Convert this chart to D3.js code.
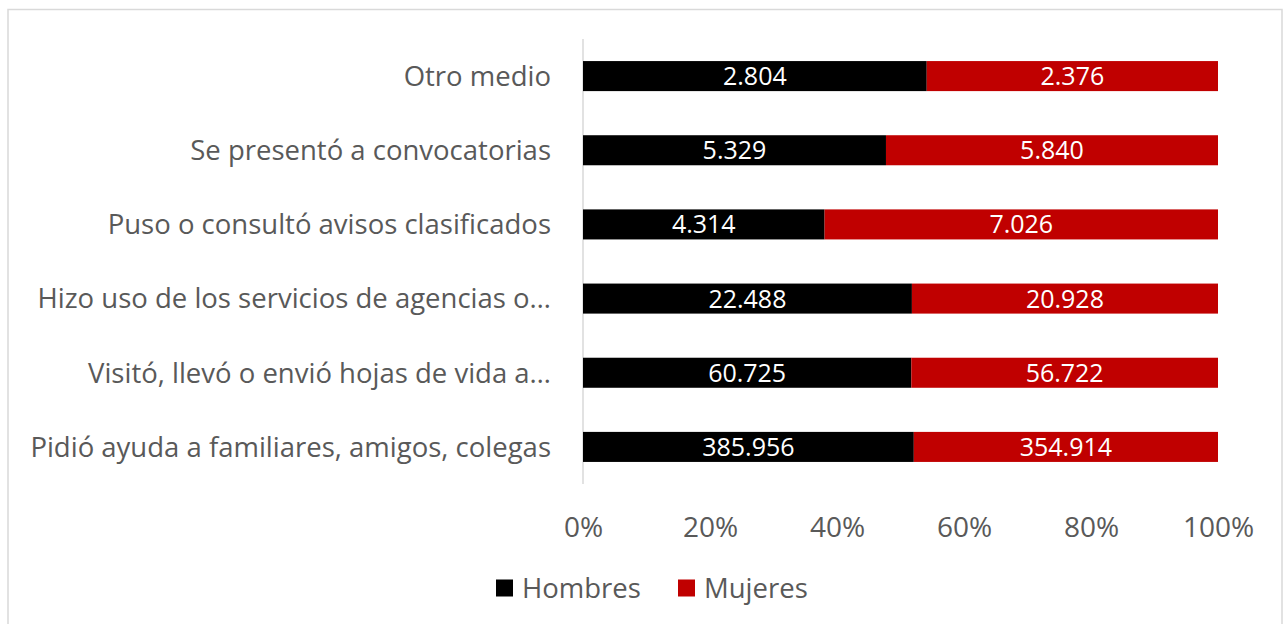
<!DOCTYPE html>
<html>
<head>
<meta charset="utf-8">
<script src="https://cdn.jsdelivr.net/npm/d3@7"></script>
<style>
  body { margin: 0; background: #fff; }
  text { font-family: "Open Sans", "Noto Sans", sans-serif; }
</style>
</head>
<body>
<div id="chart"></div>
<script>
// data
var categories = [
  "Otro medio",
  "Se presentó a convocatorias",
  "Puso o consultó avisos clasificados",
  "Hizo uso de los servicios de agencias o…",
  "Visitó, llevó o envió hojas de vida a…",
  "Pidió ayuda a familiares, amigos, colegas"
];
var hombres = [2804, 5329, 4314, 22488, 60725, 385956];
var mujeres = [2376, 5840, 7026, 20928, 56722, 354914];
var seriesNames = ["Hombres", "Mujeres"];
var seriesColors = ["#000000", "#c00000"];
var tickValues = [0, 0.2, 0.4, 0.6, 0.8, 1];

var svgWidth = 1284;
var svgHeight = 624;
var textColor = "#595959";

var svg = d3.select("#chart")
  .append("svg")
  .attr("width", svgWidth)
  .attr("height", svgHeight);

// chart frame
svg.append("rect")
  .attr("x", 8)
  .attr("y", 9.5)
  .attr("width", 1274)
  .attr("height", 700)
  .attr("fill", "#fff")
  .attr("stroke", "#d9d9d9")
  .attr("stroke-width", 1.5);

var x = d3.scaleLinear().domain([0, 1]).range([583, 1218]);
var y = d3.scaleBand()
  .domain(categories)
  .range([39, 484])
  .paddingInner(0.595)
  .paddingOuter(0.2975);

var es = d3.formatLocale({ decimal: ",", thousands: ".", grouping: [3], currency: ["$", ""] });
var fmt = es.format(",d");

// stacked rows as shares
var rows = categories.map(function (c, i) {
  var total = hombres[i] + mujeres[i];
  return { cat: c, Hombres: hombres[i] / total, Mujeres: mujeres[i] / total,
           raw: { Hombres: hombres[i], Mujeres: mujeres[i] } };
});
var stack = d3.stack().keys(seriesNames)(rows);

// category axis line
svg.append("line")
  .attr("x1", x(0)).attr("x2", x(0))
  .attr("y1", 39).attr("y2", 484)
  .attr("stroke", "#d9d9d9")
  .attr("stroke-width", 1.5);

var layers = svg.selectAll("g.layer")
  .data(stack)
  .enter()
  .append("g")
  .attr("class", "layer")
  .attr("fill", function (d, i) { return seriesColors[i]; });

layers.selectAll("rect")
  .data(function (d) { return d; })
  .enter()
  .append("rect")
  .attr("x", function (d) { return x(d[0]); })
  .attr("y", function (d) { return y(d.data.cat); })
  .attr("width", function (d) { return x(d[1]) - x(d[0]); })
  .attr("height", y.bandwidth());

// value labels inside bars
layers.each(function (layer) {
  d3.select(this).selectAll("text")
    .data(layer)
    .enter()
    .append("text")
    .attr("x", function (d) { return (x(d[0]) + x(d[1])) / 2; })
    .attr("y", function (d) { return y(d.data.cat) + y.bandwidth() / 2; })
    .attr("dy", "0.36em")
    .attr("text-anchor", "middle")
    .attr("fill", "#fff")
    .attr("font-size", 25)
    .text(function (d) { return fmt(d.data.raw[layer.key]); });
});

// category labels
svg.append("g")
  .selectAll("text")
  .data(categories)
  .enter()
  .append("text")
  .attr("x", 551)
  .attr("y", function (d) { return y(d) + y.bandwidth() / 2; })
  .attr("dy", "0.36em")
  .attr("text-anchor", "end")
  .attr("fill", textColor)
  .attr("font-size", 27.5)
  .text(function (d) { return d; });

// value axis
var xAxis = svg.append("g")
  .attr("transform", "translate(0,514)")
  .call(d3.axisBottom(x).tickValues(tickValues).tickFormat(d3.format(".0%")).tickSize(0));
xAxis.select(".domain").remove();
xAxis.selectAll("text")
  .attr("fill", textColor)
  .attr("font-size", 28)
  .attr("font-family", "'Open Sans', 'Noto Sans', sans-serif");

// legend
var legendX = [496, 678];
var legend = svg.append("g")
  .selectAll("g")
  .data(seriesNames)
  .enter()
  .append("g")
  .attr("transform", function (d, i) { return "translate(" + legendX[i] + ",588)"; });

legend.append("rect")
  .attr("x", 0)
  .attr("y", -8.5)
  .attr("width", 17)
  .attr("height", 17)
  .attr("fill", function (d, i) { return seriesColors[i]; });

legend.append("text")
  .attr("x", 26)
  .attr("y", 0)
  .attr("dy", "0.36em")
  .attr("fill", textColor)
  .attr("font-size", 27.5)
  .text(function (d) { return d; });
</script>
</body>
</html>
